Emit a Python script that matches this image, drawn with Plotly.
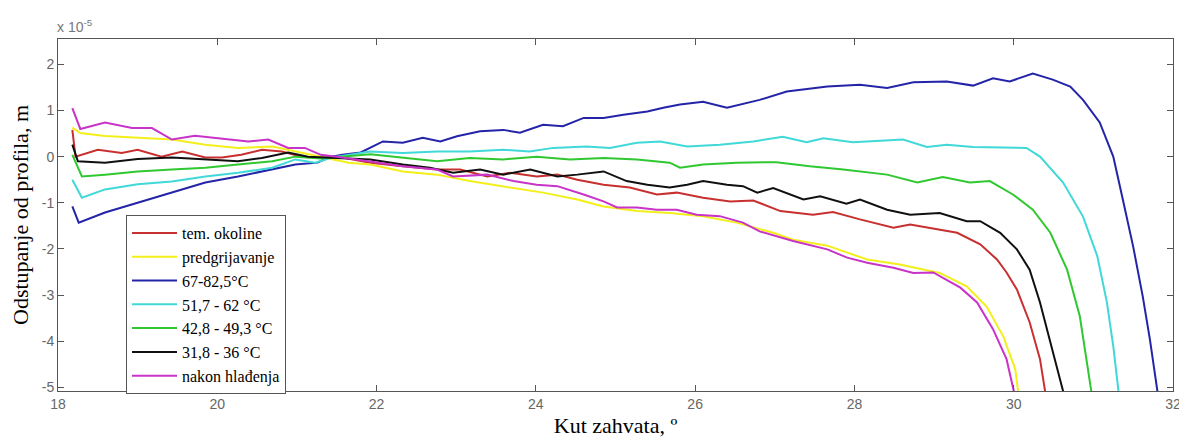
import plotly.graph_objects as go

# ---- data (x: Kut zahvata [deg], y: Odstupanje od profila [x 1e-5 m]) ----
red_x = [18.18, 18.22, 18.5, 18.8, 19.0, 19.3, 19.56, 19.85, 20.06, 20.3, 20.56, 20.81, 21.06, 21.3, 21.5,
         21.92, 22.33, 22.76, 23.05, 23.39, 23.68, 24.01, 24.27, 24.52, 24.85, 25.18, 25.52, 25.77, 26.1,
         26.44, 26.73, 27.07, 27.48, 27.73, 28.07, 28.49, 28.7, 29.04, 29.29, 29.58, 29.79, 29.91, 30.04,
         30.2, 30.33, 30.4]
red_y = [0.58, 0.0, 0.15, 0.08, 0.15, 0.0, 0.11, -0.02, -0.02, 0.04, 0.15, 0.11, 0.0, -0.02, 0.0,
         -0.13, -0.21, -0.28, -0.28, -0.43, -0.35, -0.43, -0.39, -0.5, -0.61, -0.67, -0.82, -0.78, -0.89,
         -0.97, -0.95, -1.18, -1.26, -1.2, -1.36, -1.54, -1.47, -1.58, -1.65, -1.9, -2.23, -2.51, -2.88,
         -3.59, -4.39, -5.15]

yellow_x = [18.18, 18.28, 18.59, 19.0, 19.43, 19.85, 20.26, 20.69, 20.98, 21.3, 21.65, 21.92, 22.33, 22.76,
            23.17, 23.68, 24.09, 24.52, 24.85, 25.27, 25.68, 26.1, 26.52, 26.98, 27.23, 27.66, 28.16, 28.57,
            29.07, 29.41, 29.66, 29.87, 30.02, 30.06]
yellow_y = [0.63, 0.51, 0.45, 0.41, 0.37, 0.26, 0.19, 0.22, 0.11, 0.0, -0.13, -0.17, -0.32, -0.39,
            -0.53, -0.67, -0.78, -0.93, -1.08, -1.18, -1.22, -1.29, -1.43, -1.65, -1.8, -1.93, -2.23, -2.34,
            -2.52, -2.81, -3.25, -3.9, -4.61, -5.15]

blue_x = [18.18, 18.26, 18.59, 19.0, 19.43, 19.85, 20.26, 20.69, 20.98, 21.26, 21.39, 21.57, 21.8, 22.08,
          22.33, 22.58, 22.8, 23.01, 23.3, 23.59, 23.8, 24.09, 24.34, 24.6, 24.85, 25.1, 25.4, 25.6, 25.81,
          26.1, 26.4, 26.81, 27.15, 27.66, 28.07, 28.41, 28.74, 29.16, 29.49, 29.74, 29.95, 30.24, 30.49,
          30.71, 30.87, 31.08, 31.25, 31.37, 31.5, 31.62, 31.71, 31.81]
blue_y = [-1.08, -1.43, -1.21, -1.0, -0.78, -0.56, -0.43, -0.28, -0.17, -0.13, -0.02, 0.04, 0.09, 0.33,
          0.3, 0.41, 0.33, 0.44, 0.55, 0.58, 0.52, 0.69, 0.66, 0.84, 0.84, 0.91, 0.98, 1.06, 1.13,
          1.19, 1.06, 1.23, 1.41, 1.52, 1.56, 1.49, 1.61, 1.63, 1.54, 1.7, 1.63, 1.8, 1.67,
          1.52, 1.23, 0.74, 0.0, -0.93, -1.95, -3.03, -3.96, -5.15]

cyan_x = [18.18, 18.3, 18.59, 19.0, 19.43, 19.85, 20.26, 20.69, 20.98, 21.23, 21.44, 21.92, 22.33, 22.76,
          23.17, 23.59, 23.92, 24.22, 24.64, 24.93, 25.27, 25.56, 25.9, 26.31, 26.73, 27.1, 27.4, 27.61,
          27.98, 28.61, 28.91, 29.16, 29.49, 30.16, 30.33, 30.62, 30.87, 31.05, 31.17, 31.25, 31.32]
cyan_y = [-0.5, -0.89, -0.71, -0.6, -0.54, -0.43, -0.35, -0.24, -0.06, -0.13, -0.02, 0.11, 0.08, 0.11,
          0.11, 0.15, 0.11, 0.19, 0.22, 0.19, 0.3, 0.33, 0.22, 0.26, 0.33, 0.43, 0.31, 0.4,
          0.31, 0.37, 0.21, 0.26, 0.21, 0.19, 0.0, -0.56, -1.3, -2.16, -3.16, -4.11, -5.15]

green_x = [18.18, 18.3, 18.59, 19.0, 19.43, 19.85, 20.26, 20.69, 20.98, 21.3, 21.92, 22.33, 22.76, 23.17,
           23.59, 24.01, 24.43, 24.85, 25.27, 25.68, 25.81, 26.1, 26.52, 27.02, 27.44, 27.86, 28.41, 28.79,
           29.11, 29.45, 29.7, 29.99, 30.24, 30.46, 30.67, 30.83, 30.98]
green_y = [0.04, -0.43, -0.39, -0.32, -0.28, -0.24, -0.17, -0.1, 0.0, -0.04, 0.05, -0.03, -0.1, -0.03,
           -0.06, 0.0, -0.06, -0.03, -0.06, -0.13, -0.24, -0.17, -0.13, -0.12, -0.21, -0.28, -0.39, -0.56,
           -0.44, -0.56, -0.53, -0.82, -1.15, -1.65, -2.45, -3.46, -5.15]

black_x = [18.18, 18.25, 18.59, 19.0, 19.43, 19.85, 20.26, 20.56, 20.89, 21.14, 21.39, 21.63, 21.92, 22.33,
           22.67, 22.96, 23.3, 23.59, 23.93, 24.27, 24.52, 24.85, 25.14, 25.4, 25.68, 25.9, 26.1, 26.4,
           26.6, 26.78, 26.98, 27.36, 27.57, 27.9, 28.07, 28.41, 28.7, 29.07, 29.41, 29.58, 29.83, 30.04,
           30.2, 30.33, 30.49, 30.63]
black_y = [0.26, -0.1, -0.13, -0.05, -0.02, -0.06, -0.1, -0.03, 0.09, 0.0, -0.02, -0.03, -0.06, -0.17,
           -0.24, -0.35, -0.28, -0.39, -0.28, -0.43, -0.39, -0.32, -0.53, -0.61, -0.67, -0.61, -0.53, -0.61,
           -0.64, -0.78, -0.68, -0.93, -0.86, -1.02, -0.93, -1.15, -1.26, -1.22, -1.4, -1.4, -1.65, -2.01,
           -2.45, -3.16, -4.24, -5.15]

magenta_x = [18.18, 18.28, 18.59, 18.93, 19.18, 19.43, 19.72, 20.13, 20.39, 20.64, 20.89, 21.1, 21.3, 21.5,
             21.92, 22.33, 22.76, 22.96, 23.39, 23.72, 24.01, 24.27, 24.6, 24.85, 25.02, 25.27, 25.52, 25.77,
             26.02, 26.31, 26.6, 26.81, 27.23, 27.66, 27.91, 28.16, 28.49, 28.74, 28.99, 29.33, 29.54, 29.74,
             29.91, 30.01]
magenta_y = [1.05, 0.6, 0.74, 0.62, 0.62, 0.37, 0.45, 0.37, 0.33, 0.37, 0.19, 0.19, 0.04, 0.0,
             -0.1, -0.21, -0.28, -0.43, -0.39, -0.53, -0.61, -0.64, -0.82, -0.97, -1.1, -1.1, -1.15, -1.15,
             -1.26, -1.29, -1.43, -1.62, -1.83, -2.01, -2.19, -2.3, -2.41, -2.52, -2.51, -2.84, -3.16, -3.74,
             -4.39, -5.15]

series_names = ["tem. okoline", "predgrijavanje", "67-82,5°C", "51,7 - 62 °C",
                "42,8 - 49,3 °C", "31,8 - 36 °C", "nakon hlađenja"]
series_colors = ["#c83030", "#f2ef1a", "#2424a8", "#40d8d8", "#30c830", "#101010", "#c833c8"]
series_xs = [red_x, yellow_x, blue_x, cyan_x, green_x, black_x, magenta_x]
series_ys = [red_y, yellow_y, blue_y, cyan_y, green_y, black_y, magenta_y]

x_ticks = [18, 20, 22, 24, 26, 28, 30, 32]
y_ticks = [2, 1, 0, -1, -2, -3, -4, -5]

fig = go.Figure()
for name, col, xs, ys in zip(series_names, series_colors, series_xs, series_ys):
    fig.add_trace(go.Scatter(x=xs, y=ys, mode="lines", name=name,
                             line=dict(color=col, width=2)))

axis_common = dict(showgrid=False, zeroline=False, showline=True, linecolor="#555555", linewidth=1,
                   mirror="ticks", ticks="inside", ticklen=6, tickcolor="#555555", automargin=False,
                   tickfont=dict(family="Arial, Liberation Sans", size=14, color="#666666"))

serif = "Liberation Serif, Times New Roman, serif"

fig.update_xaxes(range=[18, 32], tickvals=x_ticks, ticktext=[str(v) for v in x_ticks],
                 title=dict(text="Kut zahvata, º", font=dict(family=serif, size=22, color="black"),
                            standoff=6),
                 **axis_common)
fig.update_yaxes(range=[-5.08, 2.55], tickvals=y_ticks, ticktext=[str(v) for v in y_ticks],
                 title=dict(text="Odstupanje od profila, m", font=dict(family=serif, size=22, color="black"),
                            standoff=10),
                 **axis_common)

fig.add_annotation(text="x 10<sup>-5</sup>", xref="paper", yref="paper", x=0.0, y=1.0,
                   xanchor="left", yanchor="bottom", yshift=2, xshift=-3, showarrow=False,
                   font=dict(family="Arial, Liberation Sans", size=14, color="#777777"))

# the page body adds an 8px offset, so the figure is 8px smaller than the window
fig.update_layout(
    width=1179, height=435,
    margin=dict(l=50, r=14, t=31, b=52),
    paper_bgcolor="white", plot_bgcolor="white",
    legend=dict(x=0.061, y=0.50, xanchor="left", yanchor="top",
                bgcolor="white", bordercolor="#555555", borderwidth=1,
                font=dict(family=serif, size=16, color="black"),
                tracegroupgap=0, itemwidth=45),
    showlegend=True,
)

fig.write_html("out.html")
